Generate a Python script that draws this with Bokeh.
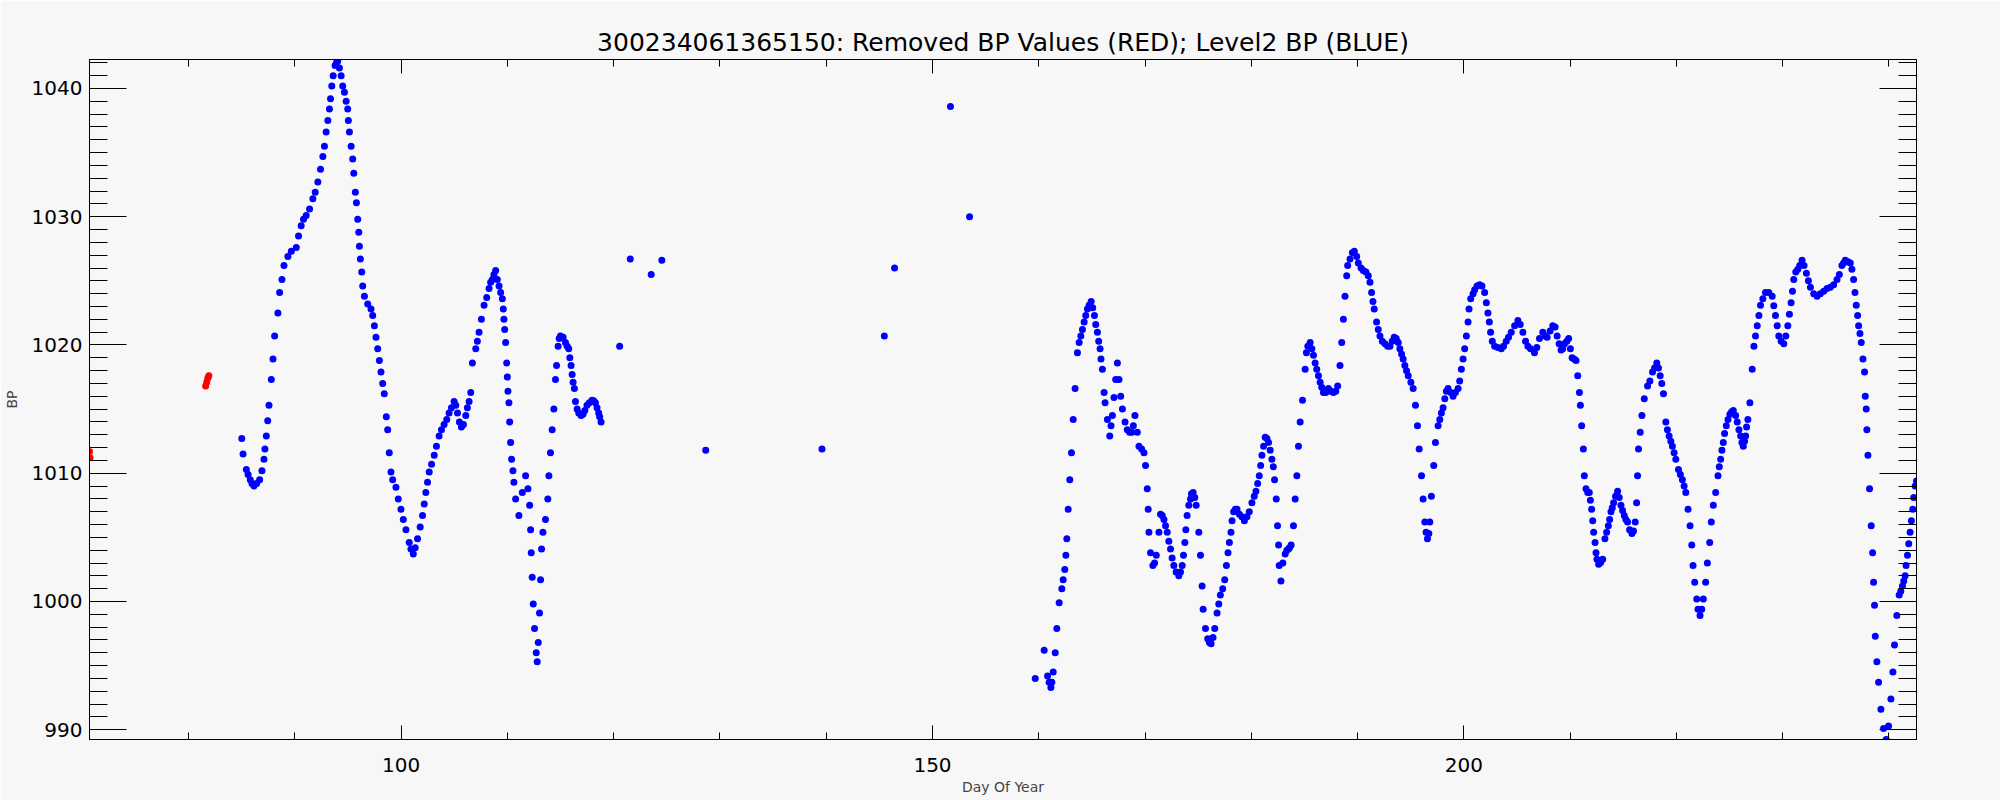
from bokeh.plotting import figure
from bokeh.models import Range1d, LinearAxis, SingleIntervalTicker, ColumnDataSource
from bokeh.embed import file_html
from bokeh.resources import INLINE

TITLE = "300234061365150: Removed BP Values (RED); Level2 BP (BLUE)"
X_LABEL = "Day Of Year"
Y_LABEL = "BP"

# Removed values (red)
red_day = [70.67, 70.72, 81.60, 81.70, 81.80, 81.90]
red_bp = [1011.7, 1011.2, 1016.8, 1017.1, 1017.4, 1017.6]

# Level2 BP (blue), segment 1: days 85-119
blue_day_a = [85.0, 85.43, 85.8, 86.15, 86.68, 87.09, 87.31, 87.56, 87.94, 88.40, 88.78, 89.34,
              90.13, 90.59, 91.06, 91.69, 92.16, 92.63, 92.94, 93.25, 93.47, 93.78, 94.03, 94.35,
              94.66, 94.97, 95.13, 95.44, 95.69, 95.91, 96.07, 96.29, 96.54, 97.16, 97.48, 97.79,
              98.10, 98.41, 98.73, 98.88, 99.04, 99.51, 99.98, 100.45, 100.76, 101.14, 101.54,
              102.01, 102.32, 102.64, 103.11, 103.57, 104.04, 104.51, 104.98, 105.30, 105.67,
              106.08, 106.39, 106.70, 107.02, 107.33, 107.80, 108.27, 108.58, 108.89, 109.21,
              109.52, 109.67, 109.83, 109.93, 109.99, 110.05, 110.14, 110.21, 110.30, 110.39,
              110.52, 110.61, 110.77, 111.08, 111.40, 111.71, 111.93, 112.09, 112.18, 112.24,
              112.33, 112.43, 112.55, 112.71, 112.80, 112.90, 113.02, 113.12, 113.21, 113.34,
              113.58, 113.80, 113.90, 114.05, 114.21, 114.37, 114.62, 114.77, 114.99, 115.46,
              115.77, 115.99, 116.18, 116.40, 116.71, 117.12, 117.49, 117.96, 118.28, 118.59,
              118.81]
blue_bp_a = [1012.7, 1010.3, 1009.5, 1009.0, 1009.5, 1011.1, 1012.9, 1015.3, 1018.9, 1022.5, 1025.1, 1026.9,
             1027.6, 1029.3, 1030.1, 1031.4, 1032.7, 1034.7, 1036.6, 1038.4, 1040.2, 1041.8, 1042.15, 1041.0,
             1039.7, 1038.4, 1036.6, 1034.5, 1031.9, 1029.8, 1027.7, 1025.7, 1023.8, 1022.8, 1021.5, 1019.7,
             1017.9, 1016.2, 1013.4, 1011.6, 1010.1, 1008.9, 1007.2, 1005.6, 1004.6, 1003.7, 1004.9,
             1006.7, 1008.5, 1010.1, 1011.4, 1012.9, 1013.8, 1014.7, 1015.6, 1014.7, 1013.6,
             1014.5, 1015.6, 1018.6, 1019.7, 1021.0, 1023.1, 1024.4, 1025.1, 1025.8, 1024.6,
             1023.6, 1022.0, 1020.2, 1018.6, 1017.5, 1016.4, 1015.5, 1014.0, 1012.4, 1011.1,
             1010.2, 1009.3, 1008.0, 1006.7, 1008.5, 1009.8, 1008.8, 1007.5, 1005.6, 1003.8,
             1001.9, 999.8, 997.9, 996.0, 995.3, 996.8, 999.1, 1001.7, 1004.1, 1005.4,
             1006.4, 1008.0, 1009.8, 1011.6, 1013.4, 1015.0, 1018.4, 1019.9, 1020.7, 1020.2,
             1019.7, 1018.4, 1017.1, 1015.6, 1014.7, 1014.6, 1015.3, 1015.7, 1015.5, 1014.7,
             1014.0]

# further readings of segment 1
blue_day_a2 = [85.12, 85.59, 85.96, 86.40, 86.90, 87.18, 87.44, 87.78, 88.09, 88.56, 88.97, 89.66,
               90.34, 90.81, 91.38, 91.91, 92.41, 92.78, 93.10, 93.35, 93.60, 93.91, 94.19, 94.50,
               94.82, 95.03, 95.29, 95.54, 95.79, 96.01, 96.16, 96.38, 96.85, 97.32, 97.63, 97.95,
               98.26, 98.60, 99.20, 99.73, 100.20, 100.92, 101.32, 101.79, 102.17, 102.48, 102.86,
               103.32, 103.79, 104.29, 104.73, 105.14, 105.48, 105.86, 106.23, 106.55, 107.17,
               107.55, 108.05, 108.42, 108.73, 109.05, 109.36, 109.61, 109.74, 114.52, 114.87,
               115.24, 115.62, 115.87, 116.09, 116.30, 116.56, 116.93, 117.28, 117.71, 118.12,
               118.43, 118.68]
blue_bp_a2 = [1011.5, 1009.9, 1009.2, 1009.2, 1010.2, 1011.9, 1014.1, 1017.3, 1020.7, 1024.1, 1026.2, 1027.3,
              1028.5, 1029.8, 1030.6, 1031.9, 1033.7, 1035.5, 1037.5, 1039.2, 1041.0, 1042.0, 1041.6, 1040.2,
              1039.0, 1037.5, 1035.5, 1033.4, 1031.1, 1028.8, 1026.7, 1024.6, 1023.2, 1022.3, 1020.6, 1018.8,
              1017.0, 1014.4, 1009.5, 1008.0, 1006.4, 1004.1, 1004.2, 1005.8, 1007.6, 1009.3, 1010.7,
              1012.1, 1013.4, 1014.2, 1015.1, 1015.3, 1014.0, 1013.8, 1015.1, 1016.3, 1020.3,
              1022.0, 1023.7, 1024.9, 1025.5, 1025.1, 1024.1, 1022.8, 1021.2, 1017.3, 1020.5,
              1020.6, 1019.9, 1019.0, 1017.7, 1016.6, 1015.0, 1014.5, 1014.9, 1015.5, 1015.65,
              1015.1, 1014.4]

# Level2 BP (blue), isolated values in the gap
blue_day_b = [120.56, 121.56, 123.53, 124.53, 128.66, 139.60, 145.47, 146.43, 151.69, 153.49, 159.67, 160.51]
blue_bp_b = [1019.9, 1026.7, 1025.5, 1026.6, 1011.8, 1011.9, 1020.7, 1026.0, 1038.6, 1030.0, 994.0, 996.2]

# Level2 BP (blue), segment 2: days 160.8-242.6
blue_day_c = [160.83, 161.14, 161.36, 161.55, 161.70, 161.92, 162.17, 162.45, 162.64, 162.77, 162.92,
              163.08, 163.24, 163.42, 163.64, 163.96, 164.27, 164.58, 164.93, 165.24, 165.52, 165.77,
              165.99, 166.15, 166.24, 166.46, 166.68, 166.93, 167.08, 167.40, 167.71, 167.87, 168.33,
              168.74, 169.05, 169.27, 169.43, 169.90, 170.05, 170.21, 170.30, 170.37, 170.52, 170.74,
              171.06, 171.31, 171.46, 171.78, 172.09, 172.40, 172.71, 173.18, 173.50, 173.75, 173.96,
              174.28, 174.53, 174.81, 175.06, 175.22, 175.37, 175.47, 175.69, 175.90, 176.22, 176.56,
              176.78, 177.09, 177.50, 177.81, 178.09, 178.34, 178.66, 179.12, 179.59, 180.06, 180.44,
              180.75, 181.00, 181.31, 181.63, 181.94, 182.19, 182.35, 182.47, 182.57, 182.63, 182.79,
              182.97, 183.19, 183.50, 183.75, 183.97, 184.13, 184.29, 184.44, 184.60, 184.82, 185.07,
              185.32, 185.54, 185.85, 186.16, 186.48, 186.79, 187.26, 187.73, 188.13, 188.35, 188.51,
              188.67, 188.82, 188.98, 189.29, 189.70, 190.07, 190.54, 191.01, 191.32, 191.57, 191.79,
              192.11, 192.58, 193.05, 193.45, 193.83, 194.14, 194.45, 194.77, 195.23, 195.45, 195.64,
              195.80, 196.02, 196.17, 196.33, 196.58, 196.80, 196.95, 197.17, 197.33, 197.58, 197.89,
              198.21, 198.52, 198.99, 199.46, 199.77, 200.08, 200.40, 200.65, 201.02, 201.49, 201.96,
              202.27, 202.52, 202.90, 203.52, 203.99, 204.46, 205.09, 205.56, 206.03, 206.65, 207.12,
              207.43, 207.84, 208.37, 208.78, 209.15, 209.47, 209.87, 210.19, 210.56, 210.72, 210.88,
              210.97, 211.09, 211.25, 211.34, 211.50, 211.81, 212.03, 212.22, 212.44, 212.69, 213.07,
              213.28, 213.60, 213.85, 214.10, 214.47, 214.79, 215.10, 215.41, 215.82, 216.13, 216.26,
              216.35, 216.44, 216.60, 216.76, 216.98, 217.29, 217.76, 218.16, 218.48, 218.79, 219.01,
              219.32, 219.63, 219.95, 220.20, 220.57, 220.89, 221.10, 221.29, 221.45, 221.57, 221.73,
              221.92, 222.23, 222.54, 222.76, 222.92, 223.14, 223.29, 223.48, 223.70, 223.92, 224.17,
              224.42, 224.70, 225.04, 225.36, 225.73, 226.05, 226.30, 226.52, 226.73, 226.92, 227.14,
              227.30, 227.61, 227.92, 228.39, 229.02, 229.33, 229.64, 230.11, 230.49, 230.80, 231.05,
              231.43, 231.83, 232.24, 232.62, 233.24, 233.87, 234.49, 235.12, 235.58, 235.90, 236.37,
              236.68, 236.93, 237.15, 237.40, 237.56, 237.71, 237.78, 237.87, 237.93, 238.03, 238.18,
              238.34, 238.47, 238.56, 238.65, 238.72, 238.87, 239.03, 239.25, 239.50, 239.75, 239.97,
              240.19, 240.38, 240.53, 240.75, 240.97, 241.28, 241.53, 241.75, 242.00, 242.25, 242.47,
              242.60]
blue_bp_c = [994.2, 993.3, 994.5, 996.0, 997.9, 999.9, 1001.0, 1002.5, 1004.9, 1007.2, 1009.5,
             1011.6, 1014.2, 1016.6, 1019.4, 1020.7, 1021.8, 1022.8, 1023.4, 1022.3, 1021.0, 1019.7,
             1018.1, 1016.3, 1015.5, 1014.2, 1012.9, 1014.5, 1015.9, 1018.6, 1016.0, 1015.0, 1013.4,
             1013.2, 1014.5, 1013.2, 1012.1, 1011.6, 1010.6, 1008.8, 1007.2, 1005.4, 1003.8, 1002.8,
             1003.6, 1005.4, 1006.8, 1006.4, 1005.4, 1004.1, 1002.8, 1002.0, 1002.8, 1004.6, 1006.7,
             1008.0, 1008.5, 1007.5, 1005.4, 1003.6, 1001.2, 999.4, 997.9, 997.1, 996.7, 997.9,
             999.1, 1000.5, 1001.7, 1003.8, 1005.4, 1007.0, 1007.2, 1006.6, 1006.6, 1007.7, 1008.6,
             1009.8, 1011.4, 1012.8, 1012.4, 1011.1, 1009.5, 1008.0, 1005.9, 1004.4, 1002.8, 1001.6,
             1003.0, 1003.7, 1004.1, 1004.4, 1005.9, 1008.0, 1009.8, 1012.1, 1014.0, 1015.7, 1018.1,
             1019.9, 1020.2, 1019.2, 1018.1, 1017.1, 1016.3, 1016.6, 1016.3, 1016.8, 1018.4, 1020.2,
             1022.0, 1023.8, 1025.4, 1026.7, 1027.3, 1026.4, 1025.8, 1025.4, 1024.1, 1022.8, 1021.8,
             1020.7, 1020.1, 1019.9, 1020.6, 1020.2, 1019.3, 1018.4, 1017.6, 1016.6, 1015.3, 1013.7,
             1011.9, 1009.8, 1008.0, 1006.2, 1004.9, 1006.2, 1008.2, 1010.6, 1012.4, 1013.7, 1014.7,
             1015.8, 1016.6, 1016.0, 1016.6, 1018.1, 1019.7, 1021.8, 1023.6, 1024.3, 1024.7, 1024.1,
             1022.5, 1021.0, 1019.9, 1019.7, 1020.3, 1021.0, 1021.9, 1021.0, 1019.9, 1019.4, 1020.5,
             1021.0, 1020.6, 1021.5, 1020.7, 1019.6, 1020.1, 1020.5, 1019.0, 1018.8, 1017.6, 1016.3,
             1015.3, 1013.7, 1011.9, 1009.8, 1008.8, 1008.5, 1007.2, 1005.4, 1003.8, 1002.9, 1003.3,
             1004.9, 1005.9, 1007.0, 1007.7, 1008.6, 1007.5, 1006.7, 1006.2, 1005.3, 1006.2, 1007.7,
             1009.8, 1011.9, 1013.2, 1014.5, 1015.8, 1016.8, 1017.9, 1018.6, 1017.6, 1016.2, 1014.0,
             1012.9, 1012.1, 1011.1, 1010.3, 1009.5, 1008.5, 1007.2, 1005.9, 1004.4, 1002.8, 1001.5,
             1000.2, 998.9, 1000.2, 1001.5, 1003.0, 1004.6, 1006.2, 1007.5, 1008.5, 1009.8, 1011.1,
             1012.4, 1013.7, 1014.6, 1014.9, 1014.0, 1012.9, 1012.1, 1012.9, 1014.2, 1015.5, 1018.1,
             1019.9, 1021.5, 1023.1, 1024.1, 1023.8, 1022.3, 1020.7, 1020.1, 1021.5, 1023.3, 1025.1,
             1025.9, 1026.6, 1025.6, 1024.5, 1023.8, 1024.2, 1024.5, 1025.1, 1026.2, 1026.6, 1026.4,
             1025.1, 1023.1, 1021.5, 1020.2, 1018.9, 1017.9, 1016.0, 1015.0, 1013.4, 1011.4, 1008.8,
             1005.9, 1003.8, 1001.5, 999.7, 997.3, 995.3, 993.7, 991.6, 990.1, 989.24, 990.3,
             992.4, 994.5, 996.6, 998.9, 1000.5, 1001.2, 1002.0, 1003.6, 1005.4, 1007.2, 1009.0,
             1009.4]

# further readings of segment 2
blue_day_c2 = [160.98, 161.23, 162.30, 162.55, 163.80, 164.11, 164.42, 164.74, 165.08, 165.36, 165.64,
               165.86, 166.80, 167.24, 167.55, 168.12, 168.55, 168.90, 169.68, 170.90, 171.62, 171.93,
               172.24, 172.55, 172.93, 173.34, 173.62, 173.84, 174.12, 174.37, 174.68, 176.06, 176.40,
               176.94, 177.31, 177.66, 177.94, 178.19, 178.50, 178.88, 179.35, 179.81, 180.28, 180.60,
               180.88, 181.16, 181.47, 181.78, 182.07, 183.35, 183.60, 185.19, 185.70, 186.01, 186.32,
               186.63, 187.01, 187.51, 187.95, 189.07, 189.51, 189.92, 190.33, 190.79, 191.17, 191.45,
               191.95, 192.33, 192.83, 193.26, 193.64, 193.98, 194.29, 194.61, 195.02, 196.45, 196.71,
               197.74, 198.05, 198.36, 198.77, 199.21, 199.61, 199.93, 200.24, 200.49, 200.87, 201.24,
               201.71, 202.12, 202.40, 202.68, 203.21, 203.74, 204.21, 204.78, 205.31, 205.81, 206.28,
               206.87, 207.65, 208.12, 208.59, 208.97, 209.31, 209.69, 210.03, 210.38, 211.66, 211.91,
               212.13, 212.35, 212.53, 212.88, 213.44, 213.72, 213.97, 214.28, 214.63, 214.94, 215.25,
               215.60, 215.97, 217.51, 217.95, 218.32, 218.63, 219.16, 219.48, 219.79, 220.38, 220.73,
               222.04, 222.39, 224.04, 224.29, 224.54, 224.86, 225.20, 225.58, 225.89, 226.17, 226.42,
               226.61, 227.45, 227.77, 228.14, 228.70, 229.17, 229.49, 229.86, 230.30, 230.64, 230.93,
               231.24, 231.61, 232.02, 232.43, 232.93, 233.55, 234.18, 234.80, 235.34, 235.74, 236.15,
               236.52, 236.81, 237.06, 237.28, 241.12, 241.40, 241.62, 241.87, 242.12, 242.34]
blue_bp_c2 = [993.7, 993.7, 1001.7, 1003.6, 1020.2, 1021.2, 1022.3, 1023.1, 1022.9, 1021.6, 1020.3,
              1018.9, 1013.7, 1017.3, 1017.3, 1014.0, 1013.2, 1013.7, 1011.9, 1003.0, 1006.7, 1005.9,
              1004.7, 1003.4, 1002.3, 1002.3, 1003.6, 1005.6, 1007.5, 1008.4, 1008.1, 996.8, 997.2,
              999.8, 1001.0, 1002.8, 1004.6, 1006.3, 1007.2, 1006.8, 1006.3, 1007.0, 1008.2, 1009.2,
              1010.6, 1012.1, 1012.7, 1011.8, 1010.5, 1004.0, 1004.2, 1019.4, 1019.7, 1018.6, 1017.6,
              1016.7, 1016.3, 1016.4, 1016.4, 1026.2, 1027.2, 1026.9, 1026.0, 1025.7, 1024.9, 1023.4,
              1021.2, 1020.3, 1019.9, 1020.3, 1020.5, 1019.7, 1018.9, 1018.0, 1017.1, 1005.4, 1005.3,
              1014.2, 1015.1, 1016.4, 1016.3, 1016.3, 1017.2, 1018.9, 1020.7, 1022.8, 1024.0, 1024.6,
              1024.6, 1023.3, 1021.8, 1020.3, 1019.8, 1019.9, 1020.6, 1021.5, 1021.6, 1020.3, 1019.7,
              1019.8, 1020.7, 1021.1, 1021.4, 1020.1, 1019.7, 1020.3, 1019.7, 1018.9, 1008.5, 1007.9,
              1006.3, 1004.6, 1003.3, 1003.05, 1005.4, 1006.4, 1007.3, 1008.2, 1008.1, 1007.1, 1006.4,
              1005.6, 1005.5, 1017.2, 1018.2, 1018.2, 1017.0, 1013.4, 1012.5, 1011.6, 1009.9, 1009.0,
              999.4, 999.4, 1010.5, 1011.8, 1013.1, 1014.2, 1014.8, 1014.5, 1013.4, 1012.4, 1012.5,
              1013.6, 1020.7, 1022.3, 1023.6, 1024.1, 1023.06, 1021.5, 1020.3, 1020.7, 1022.4, 1024.2,
              1025.7, 1026.2, 1026.2, 1025.0, 1024.0, 1024.0, 1024.4, 1024.7, 1025.5, 1026.4, 1026.5,
              1025.9, 1024.1, 1022.3, 1020.9, 1000.8, 1001.6, 1002.8, 1004.5, 1006.3, 1008.1]

X_MIN, X_MAX = 70.67, 242.6
Y_MIN, Y_MAX = 989.24, 1042.26

BG = "#f7f7f7"
FONT = "DejaVu Sans"

p = figure(width=2000, height=800, output_backend="svg", toolbar_location=None,
           x_range=Range1d(X_MIN, X_MAX), y_range=Range1d(Y_MIN, Y_MAX),
           min_border_left=84, min_border_right=84, min_border_top=59, min_border_bottom=61,
           x_axis_label=X_LABEL, y_axis_label=Y_LABEL, title=TITLE)

p.background_fill_color = BG
p.border_fill_color = BG
p.outline_line_color = "black"
p.outline_line_width = 1
p.grid.visible = False

p.title.align = "center"
p.title.text_font = FONT
p.title.text_font_size = "25px"
p.title.text_font_style = "normal"
p.title.text_color = "black"
p.title.standoff = 6

def style_axis(ax, major_len, minor_len, labels=True):
    ax.major_tick_in = major_len
    ax.major_tick_out = 0
    ax.minor_tick_in = minor_len
    ax.minor_tick_out = 0
    ax.axis_line_color = "black"
    ax.major_tick_line_color = "black"
    ax.minor_tick_line_color = "black"
    ax.major_label_text_font = FONT
    ax.axis_label_text_font = FONT
    ax.axis_label_text_font_style = "normal"
    ax.axis_label_text_font_size = "14px"
    if labels:
        ax.major_label_text_font_size = "20px"
        ax.major_label_text_color = "black"
    else:
        ax.major_label_text_font_size = "1px"
        ax.major_label_text_color = None
        ax.major_label_standoff = 0

x_ticker = SingleIntervalTicker(interval=50, num_minor_ticks=5)
y_ticker = SingleIntervalTicker(interval=10, num_minor_ticks=10)

xa = p.xaxis[0]
xa.ticker = x_ticker
style_axis(xa, 14, 7)
xa.major_label_standoff = 18
xa.axis_label_standoff = 4

ya = p.yaxis[0]
ya.ticker = y_ticker
style_axis(ya, 37, 18)
ya.major_label_standoff = 7
ya.axis_label_standoff = 9

top_axis = LinearAxis(ticker=x_ticker)
style_axis(top_axis, 14, 7, labels=False)
p.add_layout(top_axis, "above")

right_axis = LinearAxis(ticker=y_ticker)
style_axis(right_axis, 37, 18, labels=False)
p.add_layout(right_axis, "right")

blue_day = blue_day_a + blue_day_a2 + blue_day_b + blue_day_c + blue_day_c2
blue_bp = blue_bp_a + blue_bp_a2 + blue_bp_b + blue_bp_c + blue_bp_c2

blue_src = ColumnDataSource(dict(day=blue_day, bp=blue_bp))
red_src = ColumnDataSource(dict(day=red_day, bp=red_bp))

p.scatter("day", "bp", source=blue_src, size=7, marker="circle",
          fill_color="#0000ff", line_color="#0000ff", line_width=0)
p.scatter("day", "bp", source=red_src, size=7, marker="circle",
          fill_color="#ff0000", line_color="#ff0000", line_width=0)

open("out.html", "w").write(file_html(p, INLINE))
